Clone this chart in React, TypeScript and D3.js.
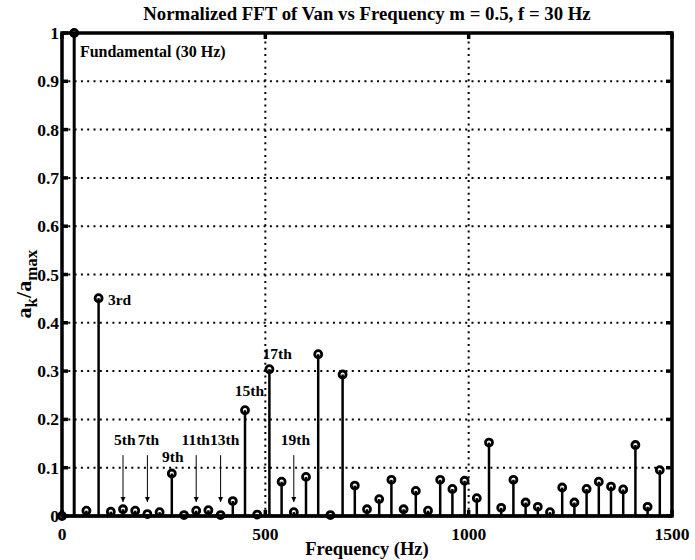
import * as d3 from "d3";

// harmonic spectrum
const freqs = [
  0, 30, 60, 90, 120, 150, 180, 210, 240, 270, 300, 330, 360, 390, 420, 450, 480,
  510, 540, 570, 600, 630, 660, 690, 720, 750, 780, 810, 840, 870, 900, 930, 960,
  990, 1020, 1050, 1080, 1110, 1140, 1170, 1200, 1230, 1260, 1290, 1320, 1350,
  1380, 1410, 1440, 1470,
];
const amps = [
  0, 1, 0.011, 0.451, 0.009, 0.014, 0.011, 0.004, 0.008, 0.088, 0.002, 0.011,
  0.012, 0.002, 0.031, 0.219, 0.003, 0.304, 0.071, 0.008, 0.081, 0.335, 0.002,
  0.293, 0.063, 0.014, 0.035, 0.075, 0.014, 0.052, 0.011, 0.075, 0.056, 0.073,
  0.037, 0.152, 0.017, 0.075, 0.028, 0.019, 0.008, 0.059, 0.028, 0.056, 0.071,
  0.061, 0.055, 0.147, 0.019, 0.095,
];

const xTicks = [0, 500, 1000, 1500];
const yTicks = [0, 0.1, 0.2, 0.3, 0.4, 0.5, 0.6, 0.7, 0.8, 0.9, 1];

// harmonic labels: text, anchor freq, anchor amplitude (baseline)
const labelText = ["Fundamental (30 Hz)", "3rd", "5th", "7th", "9th", "11th", "13th", "15th", "17th", "19th"];
const labelFreq = [44, 113, 128, 186, 246, 294, 364, 425, 493, 538];
const labelAmp = [0.95, 0.437, 0.147, 0.147, 0.112, 0.147, 0.147, 0.248, 0.325, 0.147];

// arrows pointing at the small harmonics
const arrowFreq = [150, 210, 330, 390, 570];
const arrowTop = 0.126;
const arrowTip = 0.029;

const W = 695;
const H = 560;
const m = { left: 62, right: 23, top: 33, bottom: 44 };
const font = "'Liberation Serif', 'Times New Roman', serif";

export default function App() {
  const x = d3.scaleLinear().domain([0, 1500]).range([m.left, W - m.right]);
  const y = d3.scaleLinear().domain([0, 1]).range([H - m.bottom, m.top]);
  const [x0, x1] = x.range();
  const [y0, y1] = y.range();

  return (
    <svg
      width={W}
      height={H}
      style={{ position: "absolute", left: 0, top: 0, background: "#fff" }}
      fontFamily={font}
      fontWeight="bold"
    >
      <defs>
        <marker id="head" viewBox="0 0 10 10" refX="10" refY="5" markerWidth="5" markerHeight="8" orient="auto" markerUnits="userSpaceOnUse">
          <path d="M0,0 L10,5 L0,10 Z" fill="#000" />
        </marker>
      </defs>

      <text x={(x0 + x1) / 2} y={20} textAnchor="middle" fontSize={18.8}>
        Normalized FFT of Van vs Frequency m = 0.5, f = 30 Hz
      </text>

      {/* grid */}
      {yTicks.slice(1, -1).map((t) => (
        <line key={"gy" + t} x1={x0} x2={x1} y1={y(t)} y2={y(t)} stroke="#000" strokeWidth={2} strokeDasharray="2,4.3" />
      ))}
      {xTicks.slice(1, -1).map((t) => (
        <line key={"gx" + t} x1={x(t)} x2={x(t)} y1={y0} y2={y1} stroke="#000" strokeWidth={2} strokeDasharray="2,4.3" />
      ))}

      {/* ticks, pointing inward */}
      {yTicks.map((t) => (
        <g key={"ty" + t}>
          <line x1={x0} x2={x0 + 6} y1={y(t)} y2={y(t)} stroke="#000" strokeWidth={3.5} />
          <line x1={x1} x2={x1 - 6} y1={y(t)} y2={y(t)} stroke="#000" strokeWidth={3.5} />
          <text x={x0 - 3} y={y(t) + 6} textAnchor="end" fontSize={17.5}>
            {t}
          </text>
        </g>
      ))}
      {xTicks.map((t) => (
        <g key={"tx" + t}>
          <line x1={x(t)} x2={x(t)} y1={y0} y2={y0 - 6} stroke="#000" strokeWidth={3.5} />
          <line x1={x(t)} x2={x(t)} y1={y1} y2={y1 + 6} stroke="#000" strokeWidth={3.5} />
          <text x={x(t)} y={y0 + 24} textAnchor="middle" fontSize={17.5}>
            {t}
          </text>
        </g>
      ))}

      {/* stems */}
      {freqs.map((f, i) => (
        <line key={"s" + f} x1={x(f)} x2={x(f)} y1={y(0)} y2={y(amps[i])} stroke="#000" strokeWidth={f === 30 ? 3 : 2.5} />
      ))}
      <line x1={x0} x2={x1} y1={y(0)} y2={y(0)} stroke="#000" strokeWidth={3} />
      {freqs.map((f, i) => (
        <circle key={"c" + f} cx={x(f)} cy={y(amps[i])} r={3.5} fill="none" stroke="#000" strokeWidth={2.8} />
      ))}

      {/* axes box */}
      <rect x={x0} y={y1} width={x1 - x0} height={y0 - y1} fill="none" stroke="#000" strokeWidth={3.5} />

      {/* arrows and labels */}
      {arrowFreq.map((f) => (
        <line key={"a" + f} x1={x(f)} x2={x(f)} y1={y(arrowTop)} y2={y(arrowTip)} stroke="#000" strokeWidth={1} markerEnd="url(#head)" />
      ))}
      {labelText.map((s, i) => (
        <text key={s} x={x(labelFreq[i])} y={y(labelAmp[i])} fontSize={i === 0 ? 16 : 15.5}>
          {s}
        </text>
      ))}

      <text x={(x0 + x1) / 2} y={555} textAnchor="middle" fontSize={18.5}>
        Frequency (Hz)
      </text>

      <text transform={`translate(31,284) rotate(-90)`} textAnchor="middle" fontSize={22}>
        a<tspan fontSize={17} dy={6}>k</tspan>
        <tspan dy={-6}>/a</tspan>
        <tspan fontSize={17} dy={6}>max</tspan>
      </text>
    </svg>
  );
}
